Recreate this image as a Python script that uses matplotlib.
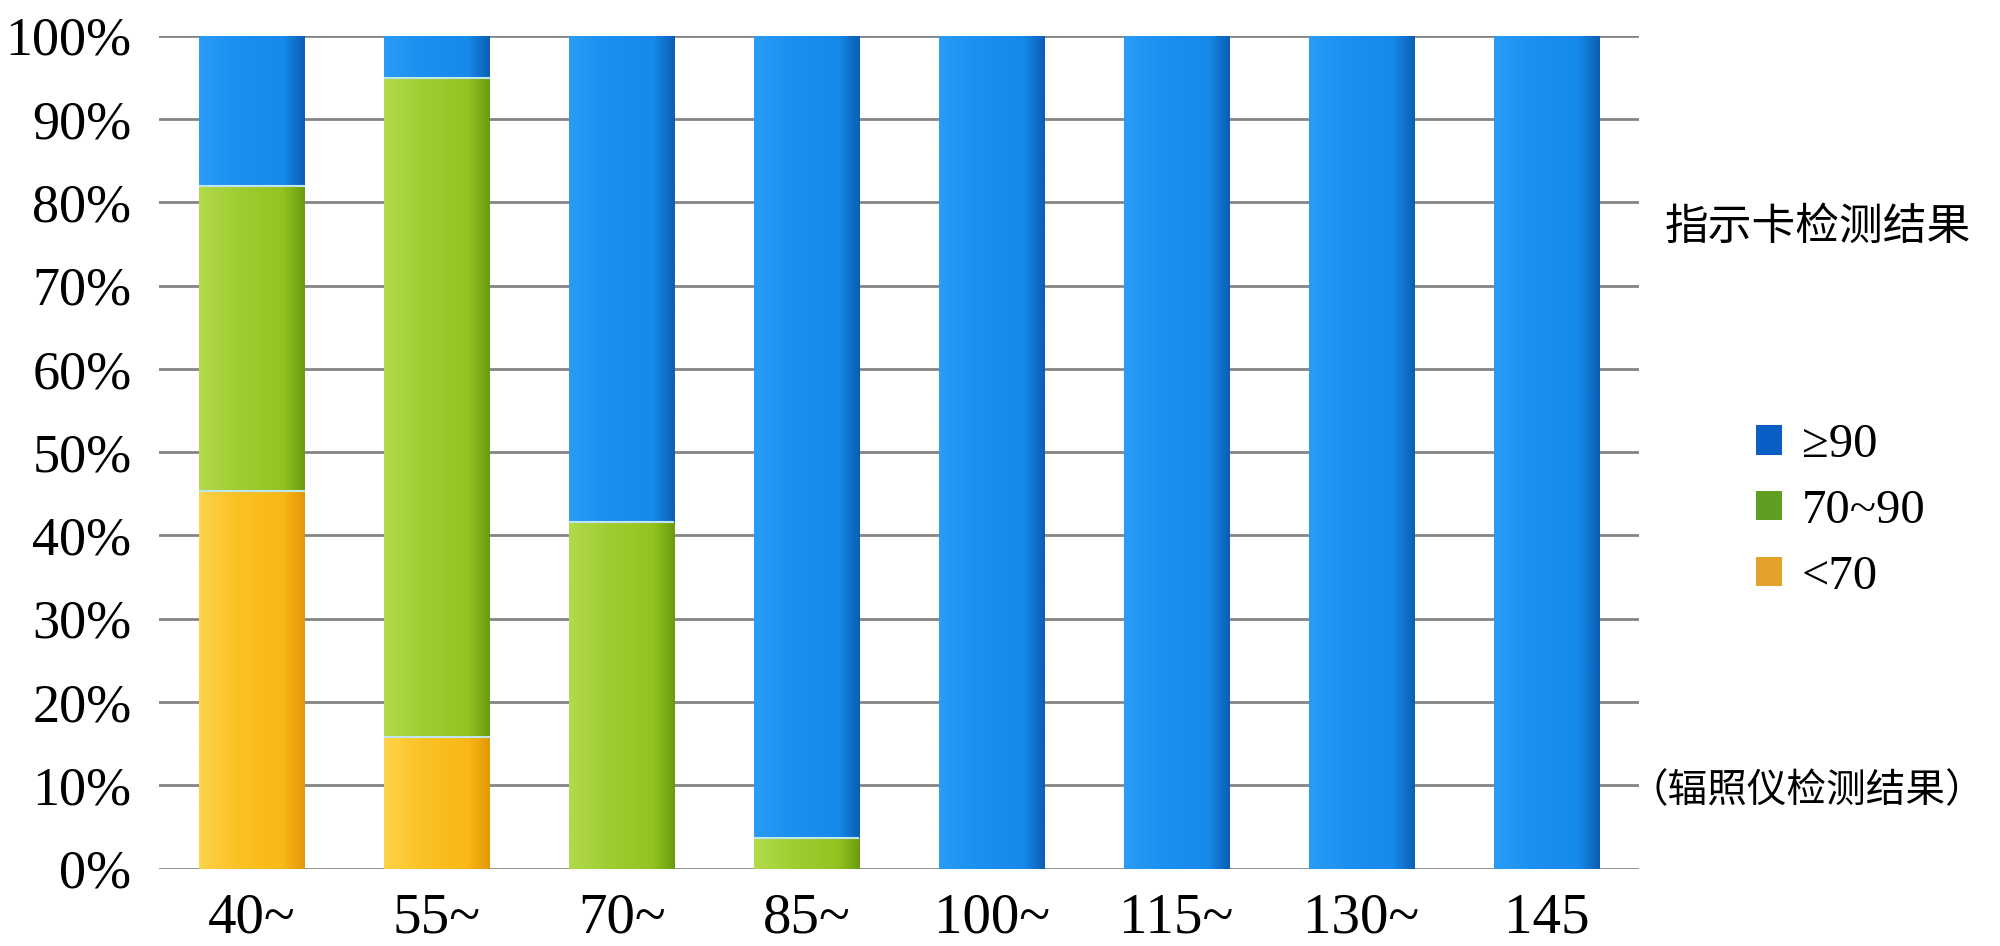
import numpy as np
import matplotlib
matplotlib.use("Agg")
import matplotlib.pyplot as plt
from matplotlib.colors import LinearSegmentedColormap
from matplotlib.patches import Patch

categories = ["40~", "55~", "70~", "85~", "100~", "115~", "130~", "145"]
below70 = [45.3, 15.8, 0, 0, 0, 0, 0, 0]
mid70_90 = [36.6, 79.1, 41.6, 3.7, 0, 0, 0, 0]
above90 = [18.1, 5.1, 58.4, 96.3, 100, 100, 100, 100]
series_labels = ["≥90", "70~90", "<70"]
yticks = list(range(0, 101, 10))
legend_title = "指示卡检测结果"
note = "（辐照仪检测结果）"

serif = ["Liberation Serif", "DejaVu Serif"]
cjk = ["Noto Sans CJK SC", "DejaVu Sans"]

grad = {
    "orange": ["#fdd349", "#fbc225", "#f8b815", "#e49806"],
    "green": ["#b2da4c", "#9fce32", "#92c321", "#6b9c0e"],
    "blue": ["#2a9cf6", "#1a90f0", "#168aea", "#0b5fb5"],
}
flat = {"orange": "#f9bd1f", "green": "#9acb2e", "blue": "#1a8ef0"}

fig = plt.figure(figsize=(20, 9.46), dpi=100)
left, right, top, bottom = 0.0797, 0.8195, 0.9623, 0.0818
ax = fig.add_axes([left, bottom, right - left, top - bottom])

x = np.arange(len(categories))
w = 0.57
b1 = ax.bar(x, below70, w, color=flat["orange"], zorder=2)
b2 = ax.bar(x, mid70_90, w, bottom=below70, color=flat["green"], zorder=2)
bot3 = np.array(below70) + np.array(mid70_90)
b3 = ax.bar(x, above90, w, bottom=bot3, color=flat["blue"], zorder=2)

g = np.linspace(0, 1, 64).reshape(1, -1)
for bars, key in [(b1, "orange"), (b2, "green"), (b3, "blue")]:
    cmap = LinearSegmentedColormap.from_list(key, list(zip([0, 0.35, 0.8, 1.0], grad[key])))
    for p in bars.patches:
        if p.get_height() <= 0:
            continue
        x0, y0 = p.get_x(), p.get_y()
        ax.imshow(g, extent=[x0, x0 + p.get_width(), y0, y0 + p.get_height()],
                  aspect="auto", cmap=cmap, zorder=3, interpolation="bilinear")
# thin light separators at segment tops
for bars in (b1, b2):
    for p in bars.patches:
        if p.get_height() > 0:
            ax.plot([p.get_x(), p.get_x() + p.get_width()], [p.get_y() + p.get_height()] * 2,
                    color="#bfe6f0", lw=1.5, zorder=4, solid_capstyle="butt")

ax.set_xlim(-0.5, len(categories) - 0.5)
ax.set_ylim(0, 100)
ax.set_aspect("auto")
ax.set_yticks(yticks)
ax.set_yticklabels([f"{v}%" for v in yticks], fontfamily=serif, fontsize=39)
ax.set_xticks(x)
ax.set_xticklabels(categories, fontfamily=serif, fontsize=41)
ax.tick_params(axis="both", length=0)
ax.tick_params(axis="y", pad=20)
ax.tick_params(axis="x", pad=17)
ax.yaxis.grid(True, color="#858585", lw=2.0, zorder=0)
ax.set_axisbelow(True)
for s in ax.spines.values():
    s.set_visible(False)

handles = [Patch(facecolor="#0b5fc4", label=series_labels[0]),
           Patch(facecolor="#5e9e22", label=series_labels[1]),
           Patch(facecolor="#e3a32a", label=series_labels[2])]
fig.legend(handles=handles, loc="center left", bbox_to_anchor=(0.8778, 0.4598),
           frameon=False, prop={"family": serif, "size": 35},
           handlelength=0.55, handleheight=0.55, handletextpad=0.4,
           labelspacing=0.45, borderpad=0, borderaxespad=0)

fig.text(0.909, 1 - 227 / 946, legend_title, fontfamily=cjk, fontsize=31.5,
         ha="center", va="center")
fig.text(0.9035, 1 - 791 / 946, note, fontfamily=cjk, fontsize=28.5,
         ha="center", va="center")

fig.savefig("out.png", dpi=100, facecolor="white")
